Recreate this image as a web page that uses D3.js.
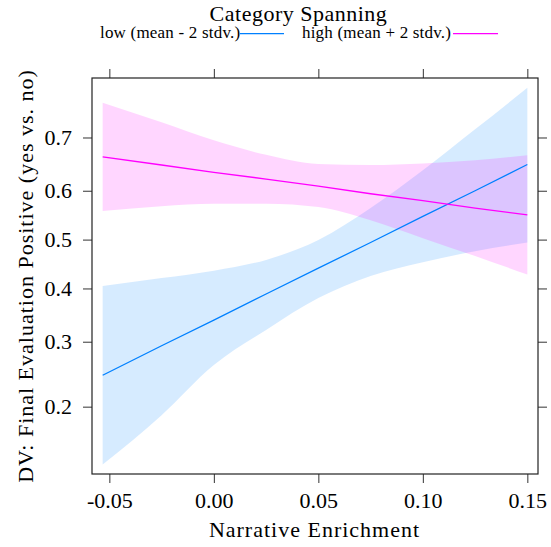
<!DOCTYPE html>
<html>
<head>
<meta charset="utf-8">
<script src="https://cdn.jsdelivr.net/npm/d3@7"></script>
<style>
	body { margin: 0; background: #fff; }
	svg { display: block; }
	text { font-family: "Liberation Serif", "DejaVu Serif", serif; fill: #000; }
</style>
</head>
<body>
<svg id="chart" width="551" height="547"></svg>
<script>
// --- data ---
const enrichment = [-0.0532, -0.025, 0, 0.025, 0.05, 0.075, 0.10, 0.125, 0.15];
const lowFit   = [0.245, 0.293, 0.339, 0.389, 0.441, 0.494, 0.548, 0.600, 0.651];
const lowUpper = [0.405, 0.421, 0.436, 0.458, 0.499, 0.565, 0.640, 0.714, 0.779];
const lowLower = [0.134, 0.189, 0.261, 0.321, 0.381, 0.425, 0.453, 0.476, 0.494];
const highFit   = [0.665, 0.650, 0.636, 0.623, 0.609, 0.594, 0.580, 0.565, 0.551];
const highUpper = [0.757, 0.726, 0.695, 0.669, 0.652, 0.650, 0.653, 0.659, 0.668];
const highLower = [0.559, 0.569, 0.574, 0.574, 0.567, 0.540, 0.503, 0.466, 0.428];
const seriesNames = ["low (mean - 2 stdv.)", "high (mean + 2 stdv.)"];
const seriesColors = ["#0080ff", "#ff00ff"];
const xTicks = [-0.05, 0, 0.05, 0.10, 0.15];
const yTicks = [0.2, 0.3, 0.4, 0.5, 0.6, 0.7];

const svg = d3.select("#chart");
const box = { left: 92, top: 78, right: 538, bottom: 474 };
const serif = "'Liberation Serif', 'DejaVu Serif', serif";

const logit = p => Math.log(p / (1 - p));
const x = d3.scaleLinear().domain([-0.0583, 0.1551]).range([box.left, box.right]);
const yl = d3.scaleLinear().domain([-1.945, 1.341]).range([box.bottom, box.top]);
const y = p => yl(logit(p));

const series = [
	{ fit: lowFit, upper: lowUpper, lower: lowLower },
	{ fit: highFit, upper: highUpper, lower: highLower }
];

svg.append("clipPath").attr("id", "panel")
	.append("rect").attr("x", box.left).attr("y", box.top)
	.attr("width", box.right - box.left).attr("height", box.bottom - box.top);

const plot = svg.append("g").attr("clip-path", "url(#panel)");

const area = d3.area()
	.x((d, i) => x(enrichment[i]))
	.y0(d => y(d[0]))
	.y1(d => y(d[1]))
	.curve(d3.curveMonotoneX);
const line = d3.line()
	.x((d, i) => x(enrichment[i]))
	.y(d => y(d));

series.forEach((s, k) => {
	plot.append("path")
		.datum(s.lower.map((v, i) => [v, s.upper[i]]))
		.attr("d", area)
		.attr("fill", seriesColors[k]).attr("fill-opacity", 0.16);
});
series.forEach((s, k) => {
	plot.append("path")
		.datum(s.fit)
		.attr("d", line)
		.attr("fill", "none").attr("stroke", seriesColors[k]).attr("stroke-width", 1.3);
});

// axes on all four sides, labels only bottom and left
const fmtX = v => d3.format(".2f")(v).replace("−", "-");
const styleAxis = g => {
	g.select(".domain").remove();
	g.selectAll(".tick line").attr("stroke", "#333").attr("stroke-width", 1);
	g.selectAll("text").style("font-family", serif).attr("font-size", 22).attr("fill", "#000");
};

svg.append("g").attr("transform", `translate(0,${box.bottom})`)
	.call(d3.axisBottom(x).tickValues(xTicks).tickSize(9).tickPadding(9).tickFormat(fmtX))
	.call(styleAxis);
svg.append("g").attr("transform", `translate(0,${box.top})`)
	.call(d3.axisTop(x).tickValues(xTicks).tickSize(9).tickFormat(""))
	.call(styleAxis);
svg.append("g").attr("transform", `translate(${box.left},0)`)
	.call(d3.axisLeft(yl).tickValues(yTicks.map(logit)).tickSize(9).tickPadding(11)
		.tickFormat(v => d3.format(".1f")(1 / (1 + Math.exp(-v)))))
	.call(styleAxis);
svg.append("g").attr("transform", `translate(${box.right},0)`)
	.call(d3.axisRight(yl).tickValues(yTicks.map(logit)).tickSize(9).tickFormat(""))
	.call(styleAxis);

svg.append("rect")
	.attr("x", box.left).attr("y", box.top)
	.attr("width", box.right - box.left).attr("height", box.bottom - box.top)
	.attr("fill", "none").attr("stroke", "#222").attr("stroke-width", 1.2);

// axis titles
svg.append("text")
	.attr("x", 314.5).attr("y", 537)
	.attr("text-anchor", "middle").attr("font-size", 22)
	.style("font-family", serif).style("letter-spacing", "1px")
	.text("Narrative Enrichment");
svg.append("text")
	.attr("transform", `translate(33,${(box.top + box.bottom) / 2}) rotate(-90)`)
	.attr("text-anchor", "middle").attr("font-size", 22)
	.style("font-family", serif).style("letter-spacing", "1px")
	.text("DV: Final Evaluation Positive (yes vs. no)");

// key
svg.append("text")
	.attr("x", 298.5).attr("y", 21)
	.attr("text-anchor", "middle").attr("font-size", 22)
	.style("font-family", serif).style("letter-spacing", "0.5px")
	.text("Category Spanning");
const keyText = [100, 302];
const keyLine = [[240, 284], [453, 498]];
seriesNames.forEach((name, k) => {
	svg.append("text")
		.attr("x", keyText[k]).attr("y", 38)
		.attr("font-size", 17)
		.style("font-family", serif).style("letter-spacing", "0.2px")
		.text(name);
	svg.append("line")
		.attr("x1", keyLine[k][0]).attr("x2", keyLine[k][1])
		.attr("y1", 33.7).attr("y2", 33.7)
		.attr("stroke", seriesColors[k]).attr("stroke-width", 1.3);
});
</script>
</body>
</html>
